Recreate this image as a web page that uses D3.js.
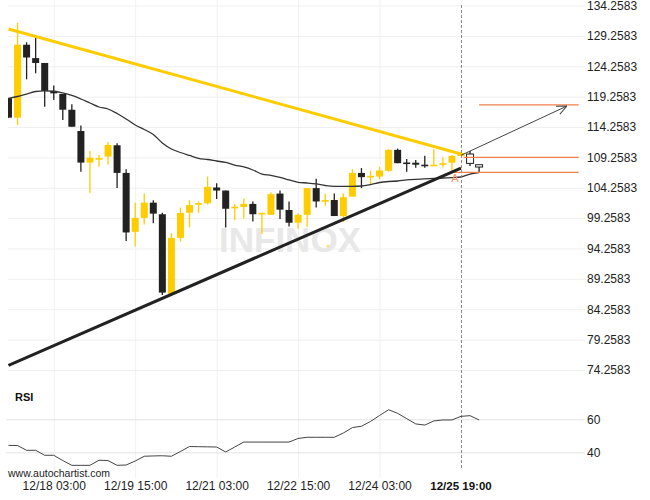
<!DOCTYPE html>
<html>
<head>
<meta charset="utf-8">
<script src="https://cdnjs.cloudflare.com/ajax/libs/d3/7.8.5/d3.min.js"></script>
<style>
  html, body { margin: 0; padding: 0; background: #fff; }
  svg { display: block; font-family: Arial, "Liberation Sans", sans-serif; }
</style>
</head>
<body>
<div id="chart"></div>
<script>
// 4h candles, index 0 = first (clipped) candle on the left
const opens  = [119.0,115.8,127.8,125.6,124.8,120.2,119.7,117.1,113.6,108.4,108.95,109.4,111.25,106.7,97.0,99.3,101.8,99.9,86.8,96.0,100.15,101.5,101.7,104.3,103.8,100.9,101.1,101.6,99.9,99.8,103.3,100.6,98.5,99.8,104.2,101.96,102.24,99.6,102.8,106.7,105.97,106.1,107.06,110.5,108.4,108.38,108.05,107.84,108.05,108.38,109.48,108.27,107.67];
const highs  = [119.0,131.4,128.2,129.2,124.8,121.1,119.7,118.0,114.5,110.3,109.65,111.8,111.6,107.3,101.8,103.3,102.2,100.15,96.8,101.0,102.2,102.0,106.1,105.0,103.8,101.6,102.5,102.0,100.15,103.5,103.8,102.0,100.05,104.2,105.75,103.3,103.3,103.3,107.3,107.5,107.06,107.7,110.6,110.7,109.0,108.83,109.53,110.6,109.27,109.65,110.0,110.31,108.05];
const lows   = [115.8,114.6,122.1,123.1,117.6,118.7,115.4,114.3,106.9,103.4,107.7,108.1,104.2,95.5,94.6,98.2,98.4,86.6,86.8,95.4,97.75,100.15,101.5,102.4,97.7,98.9,99.2,98.7,96.65,99.8,99.1,97.9,97.5,97.85,101.0,101.3,99.6,98.6,102.8,104.2,104.7,105.65,106.9,108.3,106.9,107.56,107.56,107.84,107.6,106.9,109.48,107.84,106.85];
const closes = [115.8,127.8,125.7,124.8,120.2,119.8,117.1,114.3,108.4,109.2,109.05,111.3,106.7,96.9,99.3,101.8,100.0,87.0,96.0,100.1,101.4,101.7,104.4,103.8,100.8,101.1,101.6,99.9,100.1,103.2,100.65,98.5,99.8,104.2,102.0,102.24,99.6,102.7,106.7,106.0,106.2,107.1,110.5,108.3,108.17,108.05,107.8,108.0,108.27,109.48,109.93,109.81,108.05];
const maValues = [118.98,119.28,119.69,120.10,120.19,120.14,119.86,119.45,118.87,118.21,117.55,117.22,116.48,115.58,114.59,113.85,113.03,111.63,110.64,110.06,109.57,109.11,108.91,108.66,108.42,108.0,107.68,107.18,106.52,106.28,105.95,105.54,105.16,105.04,104.88,104.63,104.50,104.50,104.50,104.55,104.79,105.12,105.29,105.37,105.54,105.65,105.73,105.78,105.86,105.91,106.03,106.52,106.77];
const rsiValues = [44.2,44.1,41.2,41.2,38.2,38.2,35.0,32.1,32.1,32.1,35.2,35.0,32.1,32.3,34.7,37.6,37.8,37.9,37.6,40.5,43.5,43.4,43.3,43.2,40.2,43.2,46.2,46.2,46.2,46.2,46.2,46.2,48.4,49.1,49.1,49.1,49.1,51.7,55.0,55.8,58.7,62.3,65.8,63.6,60.4,57.2,56.5,59.0,59.6,59.6,61.8,62.2,59.6];
const firstHollow = 51;           // candles after the pattern completed

// pattern (triangle) and forecast
const resistance = [{k: 0, v: 130.4}, {k: 50.3, v: 109.7}];
const support    = [{k: 0, v: 75.0},  {k: 50.0, v: 107.5}];
const forecast   = [{k: 50.0, v: 109.6}, {k: 61.7, v: 117.7}];
const levels = [
  {from: 52.0, to: 63.0, v: 117.9},
  {from: 50.3, to: 63.0, v: 109.27},
  {from: 49.1, to: 63.0, v: 106.8}
];
const patternIndex = 50;
const patternLabel = '12/25 19:00';

// axes
const priceTicks = [134.2583,129.2583,124.2583,119.2583,114.2583,109.2583,104.2583,99.2583,94.2583,89.2583,84.2583,79.2583,74.2583];
const timeTickIdx = [5, 14, 23, 32, 41];
const timeLabels = ['12/18 03:00', '12/19 15:00', '12/21 03:00', '12/22 15:00', '12/24 03:00'];
const rsiTicks = [40, 60];

const width = 650, height = 500;
const plotLeft = 8, plotRight = 580;

const x = d3.scaleLinear().domain([-0.055, 63.15]).range([plotLeft, plotRight]);
const y = d3.scaleLinear().domain([74.2583, 134.2583]).range([370, 5.5]);
const yRsi = d3.scaleLinear().domain([40, 60]).range([452.3, 419.3]);

const YELLOW = '#ffcc00', DARK = '#222', ORANGE = '#f07f4a';

const svg = d3.select('#chart').append('svg')
  .attr('width', width).attr('height', height);

const defs = svg.append('defs');
defs.append('clipPath').attr('id', 'price-clip')
  .append('rect').attr('x', plotLeft).attr('y', 0)
  .attr('width', plotRight - plotLeft).attr('height', 378);
defs.append('marker')
  .attr('id', 'arrow').attr('viewBox', '0 -5 10 10')
  .attr('refX', 10).attr('refY', 0)
  .attr('markerWidth', 10).attr('markerHeight', 10)
  .attr('markerUnits', 'userSpaceOnUse')
  .attr('orient', 'auto')
  .append('path').attr('d', 'M0,-4.5L10,0L0,4.5')
  .attr('fill', 'none').attr('stroke', '#444').attr('stroke-width', 1);

// vertical grid
svg.append('g')
  .attr('transform', 'translate(0,478)')
  .call(d3.axisBottom(x).tickValues(timeTickIdx).tickSize(-478).tickFormat(''))
  .call(g => g.select('.domain').remove())
  .selectAll('line').attr('stroke', '#f1f1f1');

// horizontal price grid
svg.append('g')
  .attr('transform', 'translate(585,0)')
  .call(d3.axisLeft(y).tickValues(priceTicks).tickSize(577).tickFormat(''))
  .call(g => g.select('.domain').remove())
  .selectAll('line').attr('stroke', '#efefef');

// RSI grid
svg.append('g')
  .attr('transform', 'translate(585,0)')
  .call(d3.axisLeft(yRsi).tickValues(rsiTicks).tickSize(579).tickFormat(''))
  .call(g => g.select('.domain').remove())
  .selectAll('line').attr('stroke', '#e3e3e3');

// watermark
svg.append('text')
  .attr('x', 290).attr('y', 252)
  .attr('text-anchor', 'middle')
  .attr('font-size', 35).attr('font-weight', 'bold').attr('fill', '#e8e8e8')
  .text('INFINOX');
svg.append('circle').attr('cx', 328).attr('cy', 246).attr('r', 1.6).attr('fill', '#f6e08a');

const price = svg.append('g').attr('clip-path', 'url(#price-clip)');

// candles
const candles = price.selectAll('.candle')
  .data(d3.range(opens.length))
  .enter().append('g').attr('class', 'candle');

const candleColor = k => k >= firstHollow ? DARK : (closes[k] >= opens[k] ? YELLOW : DARK);

candles.append('line')
  .attr('x1', k => x(k)).attr('x2', k => x(k))
  .attr('y1', k => y(highs[k])).attr('y2', k => y(lows[k]))
  .attr('stroke', candleColor).attr('stroke-width', 1.3);

candles.append('rect')
  .attr('x', k => x(k) - 3.5)
  .attr('width', 7)
  .attr('y', k => {
    const top = y(Math.max(opens[k], closes[k]));
    const h = Math.abs(y(opens[k]) - y(closes[k]));
    return h < 1.6 ? top - (1.6 - h) / 2 : top;
  })
  .attr('height', k => Math.max(1.6, Math.abs(y(opens[k]) - y(closes[k]))))
  .attr('fill', k => k >= firstHollow ? '#fff' : candleColor(k))
  .attr('stroke', k => k >= firstHollow ? DARK : 'none')
  .attr('stroke-width', 1);

// moving average
price.append('path')
  .datum(maValues)
  .attr('fill', 'none').attr('stroke', '#333').attr('stroke-width', 1.3)
  .attr('d', d3.line().x((d, i) => x(i)).y(d => y(d)).curve(d3.curveMonotoneX));

// horizontal levels
price.selectAll('.level')
  .data(levels)
  .enter().append('line')
  .attr('x1', d => x(d.from)).attr('x2', d => x(d.to))
  .attr('y1', d => y(d.v)).attr('y2', d => y(d.v))
  .attr('stroke', ORANGE).attr('stroke-width', 1.3);

const trend = d3.line().x(d => x(d.k)).y(d => y(d.v));

price.append('path').datum(resistance)
  .attr('fill', 'none').attr('stroke', YELLOW).attr('stroke-width', 3)
  .attr('d', trend);

price.append('path').datum(support)
  .attr('fill', 'none').attr('stroke', DARK).attr('stroke-width', 3)
  .attr('d', trend);

price.append('path').datum(forecast)
  .attr('fill', 'none').attr('stroke', '#444').attr('stroke-width', 1)
  .attr('marker-end', 'url(#arrow)')
  .attr('d', trend);

svg.append('text')
  .attr('x', x(patternIndex) - 6).attr('y', 182)
  .attr('text-anchor', 'middle')
  .attr('font-size', 11).attr('fill', '#f5926a')
  .text('A');

// pattern time marker
svg.append('line')
  .attr('x1', x(patternIndex) + 0.5).attr('x2', x(patternIndex) + 0.5)
  .attr('y1', 5).attr('y2', 470)
  .attr('stroke', '#8a8a8a').attr('stroke-width', 1)
  .attr('stroke-dasharray', '3,2');

// RSI
svg.append('path')
  .datum(rsiValues)
  .attr('fill', 'none').attr('stroke', '#444').attr('stroke-width', 1)
  .attr('d', d3.line().x((d, i) => x(i)).y(d => yRsi(d)));

svg.append('text')
  .attr('x', 15).attr('y', 401)
  .attr('font-size', 11).attr('font-weight', 'bold').attr('fill', '#111')
  .text('RSI');

// price axis
svg.append('g')
  .attr('transform', 'translate(587,0)')
  .call(d3.axisRight(y).tickValues(priceTicks).tickSize(0).tickPadding(0).tickFormat(d3.format('.4f')))
  .call(g => g.select('.domain').remove())
  .selectAll('text').attr('font-size', 12).attr('fill', '#222')
  .attr('font-family', 'Arial, "Liberation Sans", sans-serif');

// RSI axis
svg.append('g')
  .attr('transform', 'translate(587,0)')
  .call(d3.axisRight(yRsi).tickValues(rsiTicks).tickSize(0).tickPadding(0))
  .call(g => g.select('.domain').remove())
  .selectAll('text').attr('font-size', 12).attr('fill', '#222')
  .attr('font-family', 'Arial, "Liberation Sans", sans-serif');

// time axis
svg.append('g')
  .attr('transform', 'translate(0,478)')
  .call(d3.axisBottom(x).tickValues(timeTickIdx).tickSize(0).tickPadding(3)
    .tickFormat((d, i) => timeLabels[i]))
  .call(g => g.select('.domain').remove())
  .selectAll('text').attr('font-size', 12).attr('fill', '#222')
  .attr('font-family', 'Arial, "Liberation Sans", sans-serif');

svg.append('text')
  .attr('x', x(patternIndex)).attr('y', 489.5)
  .attr('text-anchor', 'middle')
  .attr('font-size', 11.5).attr('font-weight', 'bold').attr('fill', '#111')
  .text(patternLabel);

svg.append('text')
  .attr('x', 8).attr('y', 477)
  .attr('font-size', 10.5).attr('fill', '#222')
  .text('www.autochartist.com');
</script>
</body>
</html>
